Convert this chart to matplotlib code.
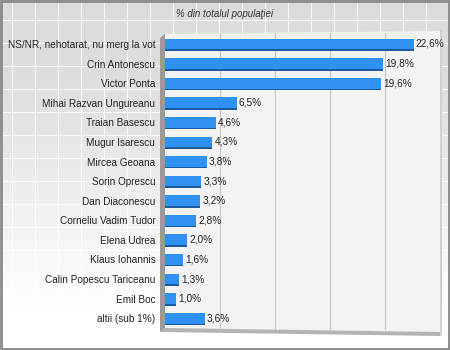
import numpy as np
import matplotlib.pyplot as plt
from matplotlib.patches import Polygon, Rectangle

names = ["NS/NR, nehotarat, nu merg la vot", "Crin Antonescu", "Victor Ponta",
         "Mihai Razvan Ungureanu", "Traian Basescu", "Mugur Isarescu",
         "Mircea Geoana", "Sorin Oprescu", "Dan Diaconescu",
         "Corneliu Vadim Tudor", "Elena Udrea", "Klaus Iohannis",
         "Calin Popescu Tariceanu", "Emil Boc", "altii (sub 1%)"]
values = [22.6, 19.8, 19.6, 6.5, 4.6, 4.3, 3.8, 3.3, 3.2, 2.8, 2.0, 1.6, 1.3, 1.0, 3.6]
title = "% din totalul populaţiei"

plt.rcParams['font.family'] = ['Liberation Sans', 'DejaVu Sans']

W, H = 450, 350
fig = plt.figure(figsize=(4.5, 3.5), dpi=100)

# background: gray grid fading to white towards the bottom
bg = fig.add_axes([0, 0, 1, 1], zorder=-10)
yy = np.linspace(0, 1, H)[:, None] * np.ones((1, W))
base = 0.86 + 0.14 * np.clip((yy - 0.2) / 0.7, 0, 1)
xs = np.arange(W)
ys = np.arange(H)
gridmask = np.zeros((H, W))
gridmask[:, (xs % 23) == 12] = 1
gridmask[(ys % 23) == 20, :] = 1
img = np.where(gridmask > 0, base + (1 - base) * 0.8, base)
bg.imshow(img, cmap='gray', vmin=0, vmax=1, aspect='auto', extent=[0, W, H, 0])
bg.set_xlim(0, W)
bg.set_ylim(H, 0)
bg.axis('off')
bg.add_patch(Rectangle((1, 1), W - 2, H - 2, fill=False, ec='#8a8a8a', lw=2))

# plot area panel, wall and floor (pixel coords)
bg.add_patch(Polygon([(165, 34), (440, 31), (440, 332), (165, 328)], closed=True,
                     fc='#f3f3f3', ec='none'))
bg.add_patch(Polygon([(160, 38), (165, 34), (165, 328), (160, 332)], closed=True,
                     fc='#9a9a9a', ec='none'))
bg.add_patch(Polygon([(160, 332), (165, 328), (440, 332), (440, 336)], closed=True,
                     fc='#b4b4b4', ec='none'))
bg.add_patch(Polygon([(440, 31), (442, 30), (442, 335), (440, 336)], closed=True,
                     fc='#d0d0d0', ec='none'))

ax = fig.add_axes([165 / W, 1 - 330 / H, 275 / W, 297 / H])
ax.patch.set_alpha(0)
y = np.arange(len(names))

# 3d-ish side of the bars
ax.barh(y + 0.08, values, height=0.55, left=0, color='#1c5aa0', zorder=2)
ax.barh(y, values, height=0.55, color='#2f92f2', zorder=3)

for yi, v in zip(y, values):
    ax.text(v + 0.2, yi, ("%.1f%%" % v).replace('.', ','), va='center', ha='left',
            fontsize=7.3, color='#222222', zorder=4)

ax.set_xlim(0, 25)
ax.set_ylim(14.6, -0.56)
ax.set_xticks([5, 10, 15, 20])
ax.xaxis.grid(True, color='#c8c8c8', lw=0.9, zorder=0)
ax.tick_params(axis='x', bottom=False, labelbottom=False)
ax.set_yticks(y)
ax.set_yticklabels(names, fontsize=7.2, color='#222222')
ax.tick_params(axis='y', length=0, pad=7)
for s in ax.spines.values():
    s.set_visible(False)

fig.text(225 / W, 1 - 14 / H, title, ha='center', va='center', fontsize=7,
         style='italic', color='#333333')

fig.savefig('out.png', dpi=100)
